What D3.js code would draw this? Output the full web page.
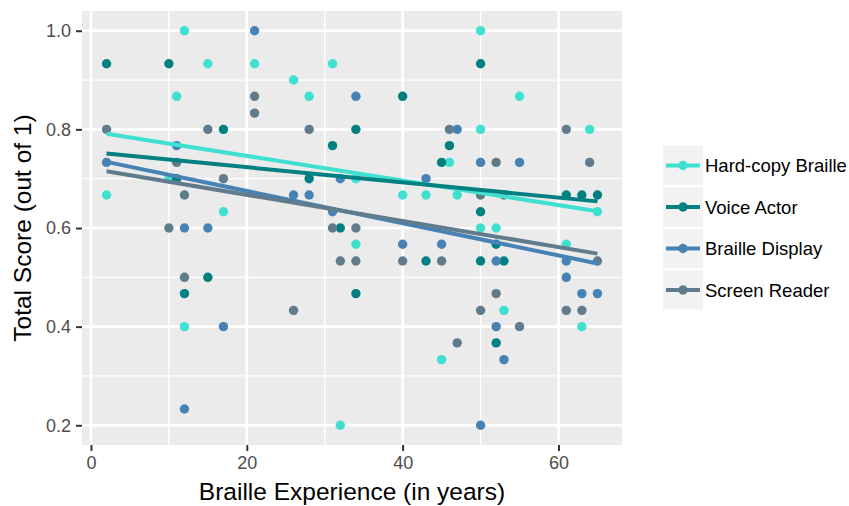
<!DOCTYPE html>
<html>
<head>
<meta charset="utf-8">
<script src="https://cdn.jsdelivr.net/npm/d3@7"></script>
<style>
  body { margin: 0; background: #fff; }
  svg { font-family: "Liberation Sans", Arial, sans-serif; }
</style>
</head>
<body>
<div id="chart"></div>
<script>
// groups and colours
const groups = ["Hard-copy Braille", "Voice Actor", "Braille Display", "Screen Reader"];
const groupColors = ["#40E0D0", "#008080", "#4682B4", "#607B8B"];

// [years of braille experience, total score]
const hardCopyPoints = [
  [12, 1.0], [15, 0.933], [11, 0.867], [10, 0.7], [2, 0.667], [17, 0.633], [12, 0.4], [32, 0.2],
  [21, 0.933], [31, 0.933], [26, 0.9], [28, 0.867], [50, 1.0], [50, 0.8], [46, 0.733], [34, 0.7],
  [40, 0.667], [43, 0.667], [47, 0.667], [50, 0.6], [34, 0.567], [55, 0.867], [64, 0.8], [65, 0.633],
  [52, 0.6], [61, 0.567], [53, 0.433], [63, 0.4], [45, 0.333]
];
const voiceActorPoints = [
  [2, 0.933], [10, 0.933], [17, 0.8], [11, 0.7], [15, 0.5], [12, 0.467], [34, 0.467], [31, 0.767],
  [28, 0.7], [32, 0.6], [50, 0.933], [40, 0.867], [34, 0.8], [46, 0.767], [45, 0.733], [50, 0.633],
  [43, 0.533], [50, 0.533], [61, 0.667], [63, 0.667], [65, 0.667], [52, 0.567], [53, 0.533], [52, 0.367]
];
const brailleDisplayPoints = [
  [11, 0.767], [2, 0.733], [12, 0.6], [15, 0.6], [17, 0.4], [12, 0.233], [21, 1.0], [32, 0.7],
  [26, 0.667], [28, 0.667], [31, 0.633], [34, 0.867], [47, 0.8], [50, 0.733], [43, 0.7], [40, 0.567],
  [45, 0.567], [55, 0.733], [52, 0.533], [61, 0.533], [61, 0.5], [63, 0.467], [65, 0.467], [52, 0.4],
  [53, 0.333], [50, 0.2]
];
const screenReaderPoints = [
  [2, 0.8], [15, 0.8], [11, 0.733], [12, 0.667], [10, 0.6], [12, 0.5], [26, 0.433], [21, 0.867],
  [21, 0.833], [28, 0.8], [17, 0.7], [31, 0.6], [32, 0.533], [46, 0.8], [34, 0.6], [34, 0.533],
  [40, 0.533], [45, 0.533], [50, 0.667], [53, 0.667], [61, 0.8], [52, 0.733], [64, 0.733], [65, 0.533],
  [52, 0.467], [50, 0.433], [61, 0.433], [63, 0.433], [55, 0.4], [47, 0.367]
];

// fitted trend lines, read at x = 2 and x = 65
const fitYears = [2, 65];
const fitStart = [0.791, 0.751, 0.734, 0.715];
const fitEnd = [0.634, 0.654, 0.528, 0.548];

const xTicks = [0, 20, 40, 60];
const yTicks = [0.2, 0.4, 0.6, 0.8, 1.0];

const seriesPoints = [hardCopyPoints, voiceActorPoints, brailleDisplayPoints, screenReaderPoints];

const W = 849, H = 506;
const panel = { left: 82, right: 622, top: 11, bottom: 445 };

const svg = d3.select("#chart").append("svg")
  .attr("width", W)
  .attr("height", H);

const x = d3.scaleLinear().domain([-1.15, 68.15]).range([panel.left, panel.right]);
const y = d3.scaleLinear().domain([0.16, 1.04]).range([panel.bottom, panel.top]);
const color = d3.scaleOrdinal().domain(groups).range(groupColors);

// panel background
svg.append("rect")
  .attr("x", panel.left).attr("y", panel.top)
  .attr("width", panel.right - panel.left)
  .attr("height", panel.bottom - panel.top)
  .attr("fill", "#EBEBEB");

const grid = svg.append("g");
// minor grid
[10, 30, 50].forEach(v => {
  grid.append("line")
    .attr("x1", x(v)).attr("x2", x(v))
    .attr("y1", panel.top).attr("y2", panel.bottom)
    .attr("stroke", "#fff").attr("stroke-width", 1.3);
});
[0.3, 0.5, 0.7, 0.9].forEach(v => {
  grid.append("line")
    .attr("x1", panel.left).attr("x2", panel.right)
    .attr("y1", y(v)).attr("y2", y(v))
    .attr("stroke", "#fff").attr("stroke-width", 1.3);
});
// major grid
xTicks.forEach(v => {
  grid.append("line")
    .attr("x1", x(v)).attr("x2", x(v))
    .attr("y1", panel.top).attr("y2", panel.bottom)
    .attr("stroke", "#fff").attr("stroke-width", 2.6);
});
yTicks.forEach(v => {
  grid.append("line")
    .attr("x1", panel.left).attr("x2", panel.right)
    .attr("y1", y(v)).attr("y2", y(v))
    .attr("stroke", "#fff").attr("stroke-width", 2.6);
});

// axes
const xAxis = svg.append("g")
  .attr("transform", `translate(0,${panel.bottom})`)
  .call(d3.axisBottom(x).tickValues(xTicks).tickSize(6).tickPadding(5).tickFormat(d3.format("d")));
const yAxis = svg.append("g")
  .attr("transform", `translate(${panel.left},0)`)
  .call(d3.axisLeft(y).tickValues(yTicks).tickSize(6).tickPadding(5).tickFormat(d3.format(".1f")));

[xAxis, yAxis].forEach(a => {
  a.select(".domain").remove();
  a.selectAll(".tick line").attr("stroke", "#333").attr("stroke-width", 2);
  a.selectAll(".tick text")
    .attr("fill", "#4D4D4D")
    .style("font-size", "18px")
    .style("font-family", "'Liberation Sans', Arial, sans-serif");
});

// points
groups.forEach((g, i) => {
  svg.append("g")
    .selectAll("circle")
    .data(seriesPoints[i])
    .join("circle")
    .attr("cx", d => x(d[0]))
    .attr("cy", d => y(d[1]))
    .attr("r", 4.7)
    .attr("fill", color(g));
});

// trend lines
const line = d3.line().x(d => x(d[0])).y(d => y(d[1]));
groups.forEach((g, i) => {
  svg.append("path")
    .datum([[fitYears[0], fitStart[i]], [fitYears[1], fitEnd[i]]])
    .attr("fill", "none")
    .attr("stroke", color(g))
    .attr("stroke-width", 4)
    .attr("d", line);
});

// axis titles
svg.append("text")
  .attr("x", (panel.left + panel.right) / 2)
  .attr("y", 500)
  .attr("text-anchor", "middle")
  .style("font-size", "24.5px")
  .text("Braille Experience (in years)");

svg.append("text")
  .attr("transform", `translate(31,${(panel.top + panel.bottom) / 2}) rotate(-90)`)
  .attr("text-anchor", "middle")
  .style("font-size", "24.5px")
  .text("Total Score (out of 1)");

// legend
const keyW = 40, keyH = 39, keyGap = 2.5;
const legend = svg.append("g").attr("transform", "translate(663,146)");
groups.forEach((g, i) => {
  const row = legend.append("g").attr("transform", `translate(0,${i * (keyH + keyGap)})`);
  row.append("rect")
    .attr("width", keyW).attr("height", keyH)
    .attr("fill", "#F2F2F2");
  row.append("line")
    .attr("x1", 3).attr("x2", keyW - 3)
    .attr("y1", keyH / 2).attr("y2", keyH / 2)
    .attr("stroke", color(g)).attr("stroke-width", 4);
  row.append("circle")
    .attr("cx", keyW / 2).attr("cy", keyH / 2)
    .attr("r", 4.7)
    .attr("fill", color(g));
  row.append("text")
    .attr("x", keyW + 2)
    .attr("y", keyH / 2 + 6.5)
    .style("font-size", "18.5px")
    .text(g);
});
</script>
</body>
</html>
